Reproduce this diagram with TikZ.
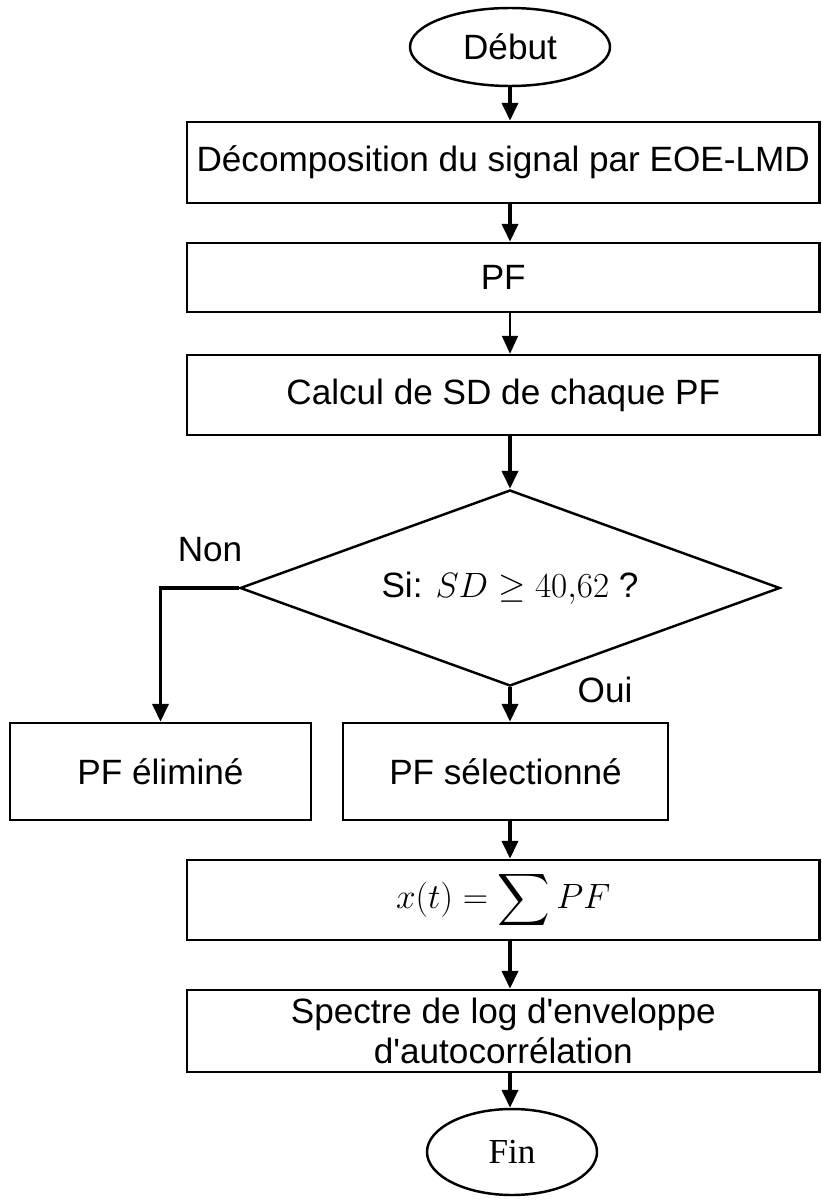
\RequirePackage{fix-cm}
\documentclass[tikz,border=0pt]{standalone}
\usepackage{amsmath}
\usepackage[no-math]{fontspec}
\setmainfont{Liberation Sans}
\newfontfamily\timesfont{Liberation Serif}
\usetikzlibrary{shapes.geometric,arrows.meta}

\begin{document}
\begin{tikzpicture}[
    font=\fontsize{20}{23}\selectfont,
    process/.style={
        rectangle,
        draw,
        line width=1.4pt,
        align=center,
        inner sep=0pt
    },
    terminal/.style={
        ellipse,
        draw,
        line width=1.4pt,
        inner sep=0pt
    },
    decision/.style={
        diamond,
        draw,
        line width=1.4pt,
        inner sep=0pt,
        aspect=2.75,
        minimum width=10.8cm,
        minimum height=3.92cm
    },
    flow/.style={
        line width=2.2pt,
        -{Triangle[width=0.32cm,length=0.36cm]}
    }
]
\useasboundingbox (0,0) rectangle (16.42,-24.08);
\def\colx{10.2}

% Main column
\node[terminal, minimum width=4cm, minimum height=1.56cm] (debut) at (\colx,-0.94) {Début};
\node[process, minimum width=12.65cm, minimum height=1.62cm] (decomp) at (10.065,-3.25)
    {Décomposition du signal par EOE-LMD};
\node[process, minimum width=12.65cm, minimum height=1.38cm] (pf) at (10.065,-5.55) {PF};
\node[process, minimum width=12.65cm, minimum height=1.6cm] (calcul) at (10.065,-7.9)
    {Calcul de SD de chaque PF};
\node[decision] (test) at (\colx,-11.76) {Si: $SD \geq 40{,}62$ ?};

% Branches
\node[process, minimum width=6.02cm, minimum height=1.94cm] (elimine) at (3.21,-15.43) {PF éliminé};
\node[process, minimum width=6.5cm, minimum height=1.94cm] (selection) at (10.11,-15.43) {PF sélectionné};

\node[process, minimum width=12.65cm, minimum height=1.6cm] (somme) at (10.065,-18.0)
    {$x(t) = \displaystyle\sum PF$};
\node[process, minimum width=12.65cm, minimum height=1.64cm] (spectre) at (10.065,-20.62)
    {Spectre de log d\textquotesingle enveloppe\\d\textquotesingle autocorrélation};
\node[terminal, minimum width=3.4cm, minimum height=1.72cm] (fin) at (10.24,-23.04) {\timesfont Fin};

\node (non) at (4.2,-11.0) {Non};
\node (oui) at (12.1,-13.8) {Oui};

% Connectors
\draw[flow] (debut.south) -- (debut.south |- decomp.north);
\draw[flow] (debut.south |- decomp.south) -- (debut.south |- pf.north);
\draw[flow, line width=1.1pt] (debut.south |- pf.south) -- (debut.south |- calcul.north);
\draw[flow] (debut.south |- calcul.south) -- (test.north);
\draw[flow] (test.west) -| (elimine.north);
\draw[flow] (test.south) -- (test.south |- selection.north);
\draw[flow] (test.south |- selection.south) -- (test.south |- somme.north);
\draw[flow] (test.south |- somme.south) -- (test.south |- spectre.north);
\draw[flow] (test.south |- spectre.south) -- (test.south |- fin.north);
\end{tikzpicture}
\end{document}
